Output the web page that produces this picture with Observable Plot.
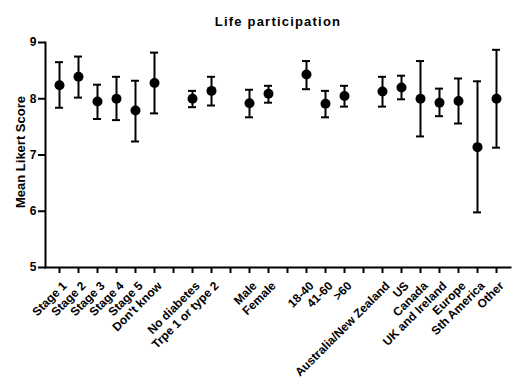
<!DOCTYPE html>
<html><head><meta charset="utf-8">
<script src="https://cdn.jsdelivr.net/npm/d3@7"></script>
<script src="https://cdn.jsdelivr.net/npm/@observablehq/plot@0.6"></script>
<style>body{margin:0;background:#fff}</style>
</head><body><div id="chart"></div>
<script>
const title = "Life participation";
const yLabel = "Mean Likert Score";
const stageGroup = ["Stage 1", "Stage 2", "Stage 3", "Stage 4", "Stage 5", "Don't know"];
const diabetesGroup = ["No diabetes", "Trpe 1 or type 2"];
const sexGroup = ["Male", "Female"];
const ageGroup = ["18-40", "41-60", ">60"];
const regionGroup = ["Australia/New Zealand", "US", "Canada", "UK and Ireland", "Europe", "Sth America", "Other"];
const meanScore = [8.24, 8.39, 7.95, 8.00, 7.79, 8.28, 8.00, 8.14, 7.92, 8.09, 8.43, 7.91, 8.05, 8.13, 8.20, 8.00, 7.93, 7.96, 7.14, 8.00];
const lowerCI  = [7.84, 8.02, 7.64, 7.62, 7.24, 7.74, 7.85, 7.88, 7.67, 7.93, 8.17, 7.67, 7.86, 7.86, 7.99, 7.33, 7.69, 7.56, 5.98, 7.13];
const upperCI  = [8.65, 8.75, 8.25, 8.39, 8.32, 8.82, 8.14, 8.39, 8.16, 8.23, 8.67, 8.14, 8.23, 8.39, 8.41, 8.67, 8.18, 8.36, 8.31, 8.87];
const yTicks = [5, 6, 7, 8, 9];

const groups = [stageGroup, diabetesGroup, sexGroup, ageGroup, regionGroup];
const labels = groups.flat();
const slots = groups.flatMap((g, i) => i < groups.length - 1 ? [...g, `gap${i}`] : g);
const rows = labels.map((label, i) => ({label, mean: meanScore[i], lo: lowerCI[i], hi: upperCI[i]}));

const chart = Plot.plot({
  width: 516, height: 383,
  marginTop: 42, marginBottom: 116, marginLeft: 45, marginRight: 6,
  style: {fontFamily: "'Liberation Sans', Arial, Helvetica, sans-serif", fontWeight: "bold", color: "#000", background: "#fff"},
  x: {type: "band", domain: slots, paddingInner: 0.58, paddingOuter: 0.5},
  y: {domain: [5, 9]},
  marks: [
    Plot.axisY(yTicks, {tickSize: 7, tickPadding: 2, strokeWidth: 2, fontSize: 12, fontWeight: "bold", tickFormat: "d", label: null}),
    Plot.axisX(slots, {tickSize: 6, strokeWidth: 2, tickFormat: () => null, label: null}),
    Plot.frame({anchor: "left", strokeWidth: 2}),
    Plot.frame({anchor: "bottom", strokeWidth: 2}),
    Plot.text(labels, {x: d => d, frameAnchor: "bottom", rotate: -45, textAnchor: "end", lineAnchor: "top", dx: 2, dy: 13, fontSize: 12, fontWeight: "bold"}),
    Plot.ruleX(rows, {x: "label", y1: "lo", y2: "hi", strokeWidth: 2}),
    Plot.tickY(rows, {x: "label", y: "lo", strokeWidth: 2}),
    Plot.tickY(rows, {x: "label", y: "hi", strokeWidth: 2}),
    Plot.dot(rows, {x: "label", y: "mean", r: 5, fill: "black"}),
    Plot.text([yLabel], {frameAnchor: "left", textAnchor: "middle", rotate: -90, dx: -25, dy: -3, fontSize: 13, fontWeight: "bold"}),
    Plot.text([title], {frameAnchor: "top", dy: -26, fontSize: 13, fontWeight: "bold"})
  ]
});
d3.select(chart).selectAll("text").filter(function () { return this.textContent === title; }).style("letter-spacing", "1.2px");
document.getElementById("chart").appendChild(chart);
</script>
</body></html>
